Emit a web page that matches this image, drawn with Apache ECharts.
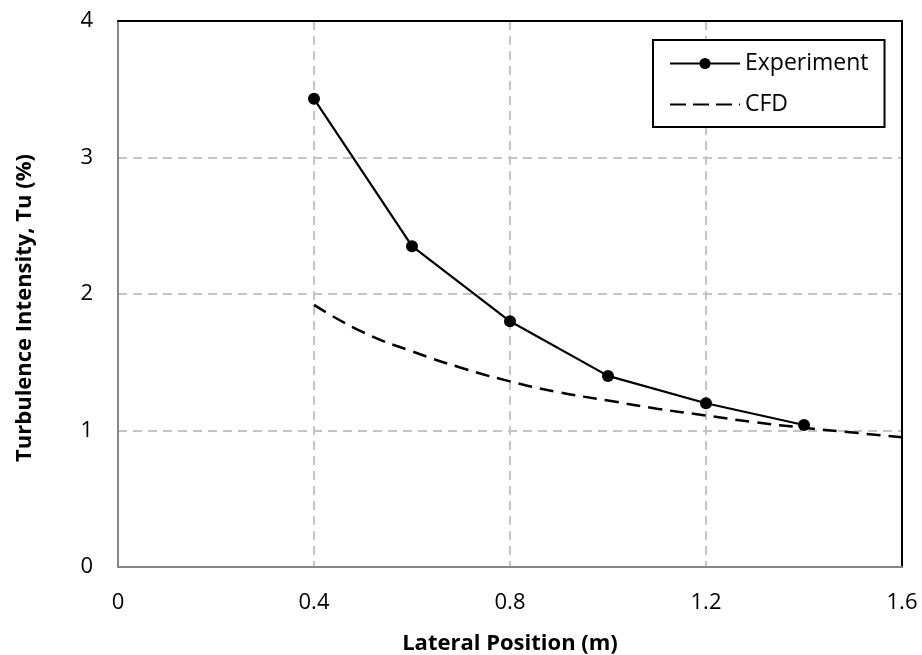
<!DOCTYPE html>
<html>
<head>
<meta charset="utf-8">
<script src="https://cdn.jsdelivr.net/npm/echarts@6/dist/echarts.min.js"></script>
<style>
  html, body { margin: 0; padding: 0; background: #fff; }
  #main { width: 922px; height: 655px; }
</style>
</head>
<body>
<div id="main"></div>
<script>
// measured points (lateral position m, Tu %)
var expX = [0.4, 0.6, 0.8, 1.0, 1.2, 1.4];
var expTu = [3.43, 2.35, 1.80, 1.40, 1.20, 1.04];

// CFD profile
var cfdX = [0.4, 0.5, 0.6, 0.7, 0.8, 0.9, 1.0, 1.1, 1.2, 1.3, 1.4, 1.5, 1.6];
var cfdTu = [1.92, 1.72, 1.58, 1.46, 1.36, 1.28, 1.22, 1.16, 1.11, 1.06, 1.02, 0.985, 0.95];

var xTicks = [0, 0.4, 0.8, 1.2, 1.6];
var yTicks = [0, 1, 2, 3, 4];

function pairs(xs, ys) {
  var out = [];
  for (var i = 0; i < xs.length; i++) out.push([xs[i], ys[i]]);
  return out;
}

var font = '"Open Sans", "Liberation Sans", sans-serif';
var gridDash = { color: '#c4c4c4', width: 2, type: [9, 6] };
var chart = echarts.init(document.getElementById('main'));

chart.setOption({
  animation: false,
  backgroundColor: '#fff',
  grid: { left: 118, right: 20, top: 21, bottom: 88, outerBoundsMode: 'none', containLabel: false },
  legend: {
    left: 653, top: 40,
    orient: 'vertical',
    backgroundColor: '#fff',
    borderColor: '#000', borderWidth: 2, borderRadius: 0,
    padding: [12, 16, 11, 16],
    itemWidth: 70, itemHeight: 14, itemGap: 18,
    textStyle: { fontFamily: font, fontSize: 23, color: '#000' },
    data: [
      { name: 'Experiment' },
      { name: 'CFD', itemStyle: { opacity: 0 }, lineStyle: { type: [16, 7] } }
    ]
  },
  xAxis: [{
    type: 'value',
    min: xTicks[0], max: xTicks[xTicks.length - 1], interval: 0.4,
    name: 'Lateral Position (m)', nameLocation: 'middle', nameGap: 66,
    nameTextStyle: { fontFamily: font, fontSize: 22, fontWeight: 'bold', color: '#000' },
    axisLine: { lineStyle: { color: '#868686', width: 2 } },
    axisTick: { show: false },
    axisLabel: {
      fontFamily: font, fontSize: 22, color: '#000', margin: 25,
      formatter: function (v) { return String(+v.toFixed(1)); }
    },
    splitLine: { show: true, lineStyle: gridDash }
  }, {
    type: 'value', position: 'top',
    min: xTicks[0], max: xTicks[xTicks.length - 1],
    axisLine: { show: true, onZero: false, lineStyle: { color: '#000', width: 2 } },
    axisTick: { show: false }, axisLabel: { show: false }, splitLine: { show: false }
  }],
  yAxis: [{
    type: 'value',
    min: yTicks[0], max: yTicks[yTicks.length - 1], interval: 1,
    name: 'Turbulence Intensity, Tu (%)', nameLocation: 'middle', nameGap: 82,
    nameTextStyle: { fontFamily: font, fontSize: 22, fontWeight: 'bold', color: '#000', padding: [0, 28, 0, 0] },
    axisLine: { show: true, lineStyle: { color: '#868686', width: 2 } },
    axisTick: { show: false },
    axisLabel: { fontFamily: font, fontSize: 22, color: '#000', margin: 25 },
    splitLine: { show: true, lineStyle: gridDash }
  }, {
    type: 'value', position: 'right',
    min: yTicks[0], max: yTicks[yTicks.length - 1],
    axisLine: { show: true, onZero: false, lineStyle: { color: '#000', width: 2 } },
    axisTick: { show: false }, axisLabel: { show: false }, splitLine: { show: false }
  }],
  series: [
    {
      name: 'Experiment',
      type: 'line',
      data: pairs(expX, expTu),
      symbol: 'circle', symbolSize: 12,
      itemStyle: { color: '#000' },
      lineStyle: { color: '#000', width: 2.2 },
      z: 3
    },
    {
      name: 'CFD',
      type: 'line',
      data: pairs(cfdX, cfdTu),
      smooth: true,
      symbol: 'none',
      itemStyle: { color: '#000' },
      lineStyle: { color: '#000', width: 2.5, type: [14, 8] },
      z: 2
    }
  ]
});
</script>
</body>
</html>
